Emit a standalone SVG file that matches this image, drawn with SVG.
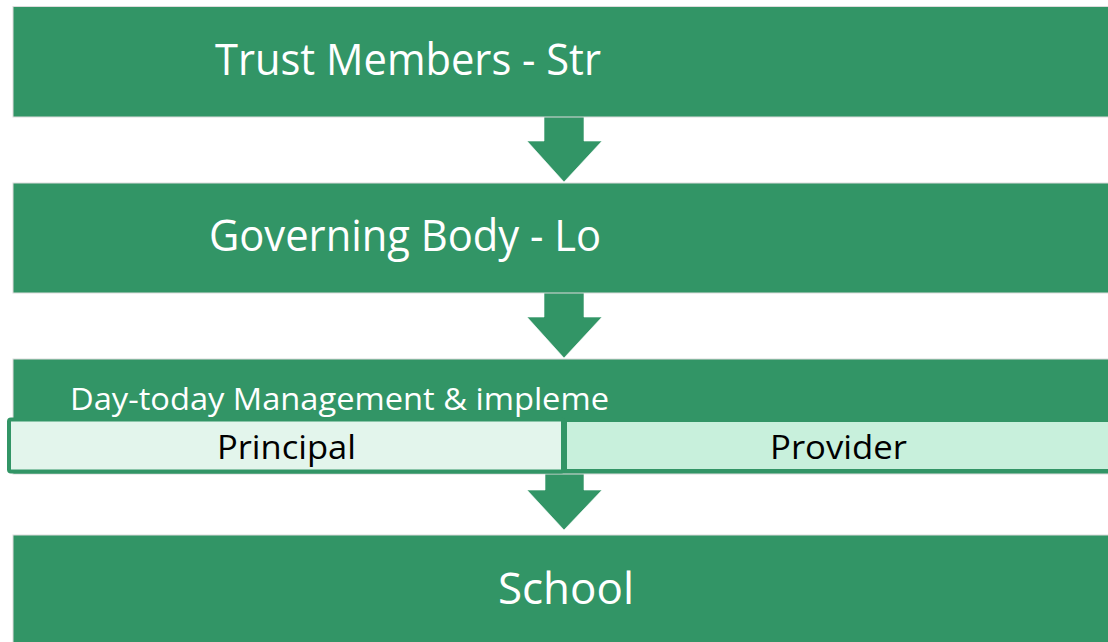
<svg xmlns="http://www.w3.org/2000/svg" width="1108" height="642" viewBox="0 0 1108 642">
  <style>
    .band { fill: #329566; stroke: #dcdcdc; stroke-width: 1; }
    .arrow { fill: #329566; stroke: #ffffff; stroke-opacity: 0.6; stroke-width: 1; }
    .title { font-family: "Open Sans", "Noto Sans", sans-serif; fill: #ffffff; }
    .role { font-family: "Open Sans", "Noto Sans", sans-serif; fill: #000000; }
  </style>
  <rect width="1108" height="642" fill="#ffffff"/>

  <g id="connectors">
    <polygon class="arrow" points="544,112 584,112 584,141 602,141 564,182 527,141 544,141"/>
    <polygon class="arrow" points="544,288 584,288 584,317 602,317 564,358 527,317 544,317"/>
    <polygon class="arrow" points="545,470 584,470 584,490 602,490 564,530 527,490 545,490"/>
  </g>

  <g id="trust-members">
    <rect class="band" x="13" y="6.5" width="1100" height="110.5"/>
    <text class="title" x="215" y="75" font-size="43" textLength="386" lengthAdjust="spacingAndGlyphs">Trust Members - Str</text>
  </g>

  <g id="governing-body">
    <rect class="band" x="13" y="183" width="1100" height="110"/>
    <text class="title" x="209" y="251" font-size="43" textLength="392" lengthAdjust="spacingAndGlyphs">Governing Body - Lo</text>
  </g>

  <g id="management">
    <rect class="band" x="13" y="359" width="1100" height="115"/>
    <text class="title" x="70" y="410" font-size="31" textLength="539" lengthAdjust="spacingAndGlyphs">Day-today Management &amp; impleme</text>
  </g>

  <g id="principal">
    <rect x="9" y="419.5" width="554" height="52" rx="2" fill="#e3f5ec" stroke="#329566" stroke-width="4"/>
    <text class="role" x="217" y="459" font-size="33" textLength="139" lengthAdjust="spacingAndGlyphs">Principal</text>
  </g>

  <g id="provider">
    <rect x="567" y="422" width="541" height="47" fill="#c8f0dc"/>
    <text class="role" x="770" y="459" font-size="33" textLength="137" lengthAdjust="spacingAndGlyphs">Provider</text>
  </g>

  <g id="school">
    <rect class="band" x="13" y="535" width="1100" height="112"/>
    <text class="title" x="498" y="604" font-size="43" textLength="136" lengthAdjust="spacingAndGlyphs">School</text>
  </g>
</svg>
